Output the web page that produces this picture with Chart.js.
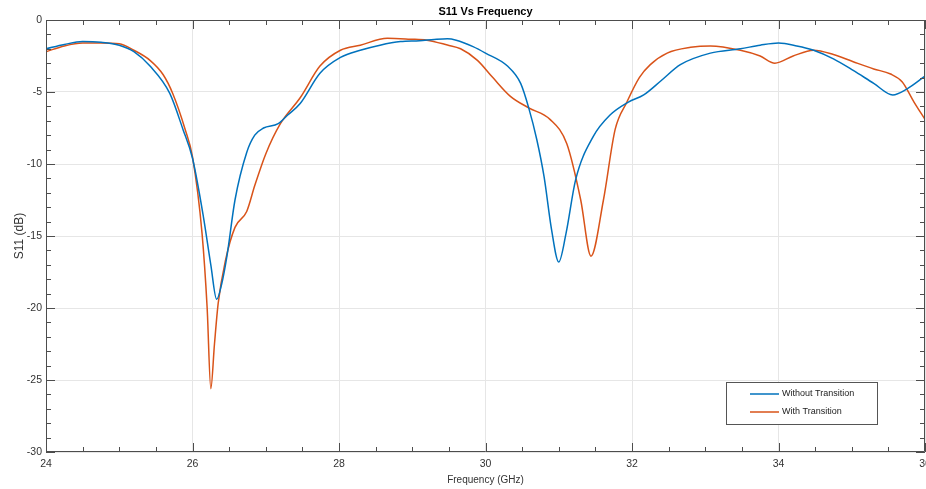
<!DOCTYPE html>
<html>
<head>
<meta charset="utf-8">
<script src="https://cdn.jsdelivr.net/npm/chart.js@4/dist/chart.umd.min.js"></script>
<style>
  html, body { margin: 0; padding: 0; background: #fff; }
</style>
</head>
<body>
<canvas id="chart" width="926" height="489"></canvas>
<script>
// values
const freqWithout = [24.0, 24.25, 24.5, 24.75, 25.0, 25.2, 25.42, 25.69, 25.87, 26.0, 26.15, 26.25, 26.33, 26.4, 26.47, 26.58, 26.74, 26.85, 26.97, 27.17, 27.3, 27.47, 27.74, 28.02, 28.29, 28.56, 28.84, 29.1, 29.3, 29.48, 29.6, 29.83, 30.0, 30.3, 30.48, 30.59, 30.7, 30.8, 30.9, 31.0, 31.1, 31.23, 31.47, 31.7, 31.95, 32.16, 32.4, 32.66, 33.07, 33.48, 33.75, 34.0, 34.25, 34.48, 34.75, 35.02, 35.3, 35.56, 35.75, 36.0];
const s11Without = [-2.0, -1.7, -1.5, -1.55, -1.75, -2.2, -3.2, -5.1, -7.6, -9.6, -13.7, -17.0, -19.4, -18.3, -16.4, -12.5, -9.2, -8.0, -7.5, -7.2, -6.6, -5.8, -3.7, -2.6, -2.1, -1.75, -1.5, -1.44, -1.35, -1.3, -1.4, -1.85, -2.3, -3.2, -4.4, -6.1, -8.3, -10.9, -14.5, -16.8, -14.8, -11.1, -8.1, -6.6, -5.7, -5.2, -4.2, -3.1, -2.3, -2.0, -1.75, -1.6, -1.8, -2.1, -2.7, -3.5, -4.4, -5.2, -4.8, -3.9];

const freqWith = [24.0, 24.25, 24.5, 24.75, 25.0, 25.2, 25.42, 25.6, 25.73, 25.9, 26.0, 26.13, 26.2, 26.25, 26.3, 26.35, 26.45, 26.58, 26.74, 26.85, 27.0, 27.2, 27.47, 27.74, 28.02, 28.29, 28.66, 28.97, 29.2, 29.48, 29.66, 29.89, 30.1, 30.34, 30.59, 30.88, 31.11, 31.3, 31.44, 31.61, 31.77, 31.93, 32.1, 32.25, 32.48, 32.8, 33.07, 33.48, 33.75, 33.95, 34.2, 34.48, 34.75, 35.02, 35.3, 35.53, 35.69, 35.85, 36.0];
const s11With = [-2.2, -1.8, -1.6, -1.6, -1.65, -2.1, -2.8, -3.8, -5.1, -7.6, -9.5, -14.8, -20.0, -25.6, -22.5, -19.7, -16.7, -14.4, -13.3, -11.5, -9.3, -7.2, -5.4, -3.2, -2.1, -1.75, -1.27, -1.33, -1.4, -1.74, -2.0, -2.8, -4.0, -5.3, -6.1, -6.9, -8.6, -12.5, -16.4, -12.5, -7.6, -5.7, -4.0, -3.1, -2.3, -1.9, -1.8, -2.1, -2.5, -3.0, -2.5, -2.1, -2.4, -2.9, -3.4, -3.75, -4.3, -5.7, -6.9];

const xTicks = [24, 26, 28, 30, 32, 34, 36];
const yTicks = [-30, -25, -20, -15, -10, -5, 0];

const FONT = "'Liberation Sans', Arial, sans-serif";
const AXIS_COLOR = '#4d4d4d';

function toPoints(xs, ys) {
  return xs.map((v, i) => ({ x: v, y: ys[i] }));
}

// matlab-ish box, inward ticks, title and legend inside the axes
const matlabAxes = {
  id: 'matlabAxes',
  afterDraw(chart) {
    const { ctx, chartArea: a, scales: { x, y } } = chart;
    ctx.save();
    ctx.strokeStyle = AXIS_COLOR;
    ctx.lineWidth = 1;
    ctx.beginPath();
    ctx.rect(a.left + 0.5, a.top + 0.5, a.right - a.left - 1, a.bottom - a.top - 1);
    for (let v = x.min; v <= x.max + 0.001; v += 0.5) {
      const px = Math.round(x.getPixelForValue(v)) + 0.5;
      const len = v % 2 === 0 ? 9 : 5;
      ctx.moveTo(px, a.bottom); ctx.lineTo(px, a.bottom - len);
      ctx.moveTo(px, a.top); ctx.lineTo(px, a.top + len);
    }
    for (let v = y.min; v <= y.max; v += 1) {
      const py = Math.round(y.getPixelForValue(v)) + 0.5;
      const len = v % 5 === 0 ? 9 : 5;
      ctx.moveTo(a.left, py); ctx.lineTo(a.left + len, py);
      ctx.moveTo(a.right, py); ctx.lineTo(a.right - len, py);
    }
    ctx.stroke();

    // title
    ctx.fillStyle = '#000';
    ctx.font = 'bold 11px ' + FONT;
    ctx.textAlign = 'center';
    ctx.textBaseline = 'middle';
    ctx.fillText('S11 Vs Frequency', (a.left + a.right) / 2, 12);

    // legend
    const lx = 726, ly = 382, lw = 151, lh = 42;
    ctx.fillStyle = '#fff';
    ctx.fillRect(lx, ly, lw, lh);
    ctx.strokeStyle = '#555';
    ctx.strokeRect(lx + 0.5, ly + 0.5, lw, lh);
    ctx.font = '9px ' + FONT;
    ctx.textAlign = 'left';
    chart.data.datasets.forEach((ds, i) => {
      const ey = ly + 12 + i * 18;
      ctx.strokeStyle = ds.borderColor;
      ctx.lineWidth = 1.5;
      ctx.beginPath();
      ctx.moveTo(750, ey); ctx.lineTo(779, ey);
      ctx.stroke();
      ctx.fillStyle = '#222';
      ctx.fillText(ds.label, 782, ey);
    });
    ctx.restore();
  }
};

new Chart(document.getElementById('chart'), {
  type: 'scatter',
  data: {
    datasets: [{
      label: 'Without Transition',
      data: toPoints(freqWithout, s11Without),
      borderColor: '#0072BD',
      borderWidth: 1.5,
      showLine: true,
      pointRadius: 0,
      cubicInterpolationMode: 'monotone'
    }, {
      label: 'With Transition',
      data: toPoints(freqWith, s11With),
      borderColor: '#D95319',
      borderWidth: 1.5,
      showLine: true,
      pointRadius: 0,
      cubicInterpolationMode: 'monotone'
    }]
  },
  options: {
    responsive: false,
    animation: false,
    layout: { padding: { top: 20, right: 1, left: 0, bottom: 0 } },
    plugins: {
      legend: { display: false },
      tooltip: { enabled: false },
      title: { display: false }
    },
    scales: {
      x: {
        type: 'linear',
        min: 24,
        max: 36,
        afterBuildTicks: (scale) => { scale.ticks = xTicks.map((v) => ({ value: v })); },
        afterFit: (scale) => { scale.height = 37; scale.paddingLeft = 0; scale.paddingRight = 0; },
        grid: { color: '#e6e6e6', drawTicks: false },
        border: { display: false },
        ticks: { color: '#333', padding: 6, maxRotation: 0, font: { family: FONT, size: 10.5 } },
        title: {
          display: true,
          text: 'Frequency (GHz)',
          color: '#333',
          padding: { top: 0, bottom: 3 },
          font: { family: FONT, size: 10 }
        }
      },
      y: {
        min: -30,
        max: 0,
        afterBuildTicks: (scale) => { scale.ticks = yTicks.map((v) => ({ value: v })); },
        afterFit: (scale) => { scale.width = 46; scale.paddingTop = 0; scale.paddingBottom = 0; },
        grid: { color: '#e6e6e6', drawTicks: false },
        border: { display: false },
        ticks: { color: '#333', padding: 4, font: { family: FONT, size: 10.5 } },
        title: {
          display: true,
          text: 'S11 (dB)',
          color: '#333',
          padding: { top: 12, bottom: 0 },
          font: { family: FONT, size: 12 }
        }
      }
    }
  },
  plugins: [matlabAxes]
});
</script>
</body>
</html>
